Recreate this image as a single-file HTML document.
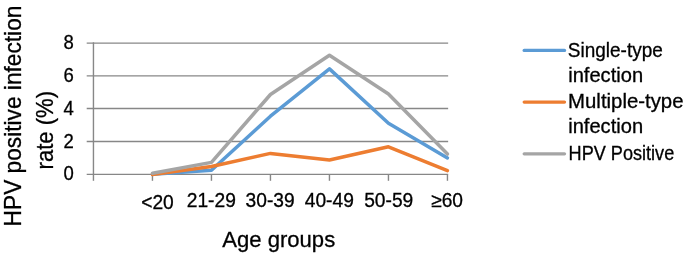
<!DOCTYPE html>
<html><head><meta charset="utf-8">
<style>
html,body{margin:0;padding:0;background:#fff;}
body{width:685px;height:255px;overflow:hidden;}
svg{display:block;will-change:transform;}
text{font-family:"Liberation Sans",sans-serif;fill:#000;stroke:#000;stroke-width:0.3px;}
</style></head>
<body>
<svg width="685" height="255" viewBox="0 0 685 255">
<rect x="0" y="0" width="685" height="255" fill="#fff"/>
<!-- gridlines -->
<g stroke="#878787" stroke-width="1.4" fill="none">
<line x1="86.7" y1="43.1" x2="448.15" y2="43.1"/>
<line x1="86.7" y1="75.9" x2="448.15" y2="75.9"/>
<line x1="86.7" y1="108.5" x2="448.15" y2="108.5"/>
<line x1="86.7" y1="141.5" x2="448.15" y2="141.5"/>
<line x1="86.7" y1="174.35" x2="448.15" y2="174.35"/>
<line x1="93.45" y1="42.3" x2="93.45" y2="180.8"/>
<line x1="152.45" y1="174.3" x2="152.45" y2="180.8"/>
<line x1="211.45" y1="174.3" x2="211.45" y2="180.8"/>
<line x1="270.45" y1="174.3" x2="270.45" y2="180.8"/>
<line x1="329.45" y1="174.3" x2="329.45" y2="180.8"/>
<line x1="388.45" y1="174.3" x2="388.45" y2="180.8"/>
<line x1="447.45" y1="174.3" x2="447.45" y2="180.8"/>
</g>
<!-- series -->
<g fill="none" stroke-width="3.5" stroke-linejoin="round" stroke-linecap="round">
<polyline stroke="#5B9BD5" points="152.45,174.3 211.45,170.3 270.45,116.2 329.45,68.9 388.45,123.2 447.45,157.9"/>
<polyline stroke="#ED7D31" points="152.45,174.4 211.45,166.5 270.45,153.4 329.45,160.0 388.45,146.8 447.45,170.6"/>
<polyline stroke="#A5A5A5" points="152.45,173.2 211.45,162.4 270.45,94.5 329.45,55.2 388.45,94.0 447.45,154.1"/>
</g>
<!-- y tick labels -->
<g font-size="20" text-anchor="end" lengthAdjust="spacingAndGlyphs">
<text x="73.8" y="49.2" textLength="10.3" lengthAdjust="spacingAndGlyphs">8</text>
<text x="73.8" y="82.0" textLength="10.3" lengthAdjust="spacingAndGlyphs">6</text>
<text x="73.8" y="114.8" textLength="10.3" lengthAdjust="spacingAndGlyphs">4</text>
<text x="73.8" y="147.6" textLength="10.3" lengthAdjust="spacingAndGlyphs">2</text>
<text x="73.8" y="180.4" textLength="10.3" lengthAdjust="spacingAndGlyphs">0</text>
</g>
<!-- x tick labels -->
<g font-size="19.5" text-anchor="middle">
<text x="157.5" y="208.8" textLength="32.6" lengthAdjust="spacingAndGlyphs">&lt;20</text>
<text x="211.3" y="207.2" textLength="49.1" lengthAdjust="spacingAndGlyphs">21-29</text>
<text x="270.1" y="207.2" textLength="49.1" lengthAdjust="spacingAndGlyphs">30-39</text>
<text x="329.3" y="207.2" textLength="49.1" lengthAdjust="spacingAndGlyphs">40-49</text>
<text x="388.7" y="207.2" textLength="49.1" lengthAdjust="spacingAndGlyphs">50-59</text>
<text x="447.1" y="207.2" textLength="31.9" lengthAdjust="spacingAndGlyphs">&#8805;60</text>
</g>
<!-- axis titles -->
<text x="222.2" y="246.8" font-size="22.5" textLength="113" lengthAdjust="spacingAndGlyphs">Age groups</text>
<text transform="translate(20.7,226.4) rotate(-90)" x="0" y="0" font-size="23.2" textLength="220.8" lengthAdjust="spacingAndGlyphs">HPV positive infection</text>
<text transform="translate(52.9,169.4) rotate(-90)" x="0" y="0" font-size="23.2" textLength="78.5" lengthAdjust="spacingAndGlyphs">rate (%)</text>
<!-- legend -->
<g stroke-width="3.3" stroke-linecap="round">
<line x1="524.2" y1="50.45" x2="564.5" y2="50.45" stroke="#5B9BD5"/>
<line x1="524.2" y1="102.1" x2="564.5" y2="102.1" stroke="#ED7D31"/>
<line x1="524.2" y1="153.8" x2="564.5" y2="153.8" stroke="#A5A5A5"/>
</g>
<g font-size="19.3">
<text x="567.8" y="56.6" textLength="95" lengthAdjust="spacingAndGlyphs">Single-type</text>
<text x="568.2" y="81.7" textLength="74.9" lengthAdjust="spacingAndGlyphs">infection</text>
<text x="568.1" y="108" textLength="115.4" lengthAdjust="spacingAndGlyphs">Multiple-type</text>
<text x="568.2" y="132.7" textLength="74.9" lengthAdjust="spacingAndGlyphs">infection</text>
<text x="568.6" y="159.8" textLength="105.6" lengthAdjust="spacingAndGlyphs">HPV Positive</text>
</g>
</svg>
</body></html>
